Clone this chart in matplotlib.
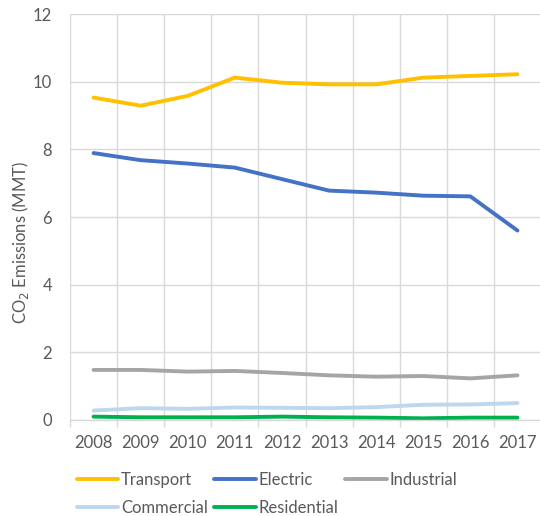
import numpy as np
import matplotlib.pyplot as plt

years = ["2008", "2009", "2010", "2011", "2012", "2013", "2014", "2015", "2016", "2017"]
transport = [9.53, 9.29, 9.58, 10.12, 9.97, 9.92, 9.92, 10.12, 10.17, 10.22]
electric = [7.89, 7.68, 7.58, 7.46, 7.12, 6.78, 6.72, 6.63, 6.61, 5.60]
industrial = [1.48, 1.48, 1.43, 1.45, 1.39, 1.32, 1.28, 1.30, 1.23, 1.32]
commercial = [0.28, 0.35, 0.33, 0.37, 0.36, 0.35, 0.38, 0.45, 0.46, 0.50]
residential = [0.10, 0.08, 0.08, 0.08, 0.10, 0.08, 0.07, 0.05, 0.07, 0.07]

plt.rcParams['font.family'] = ['Lato', 'DejaVu Sans']
grey_txt = "#595959"

fig = plt.figure(figsize=(5.4, 5.16), dpi=100)
ax = fig.add_axes([70/540, 1 - 420/516, 471/540, 406/516])

x = np.arange(len(years))
lines = {}
lines["Transport"], = ax.plot(x, transport, color="#FFC000", lw=2.8, solid_capstyle="round")
lines["Electric"], = ax.plot(x, electric, color="#4472C4", lw=2.8, solid_capstyle="round")
lines["Industrial"], = ax.plot(x, industrial, color="#A5A5A5", lw=2.8, solid_capstyle="round")
lines["Commercial"], = ax.plot(x, commercial, color="#BDD7EE", lw=2.8, solid_capstyle="round")
lines["Residential"], = ax.plot(x, residential, color="#00B050", lw=2.8, solid_capstyle="round")

ax.set_xlim(-0.5, 9.5)
ax.set_ylim(0, 12)
ax.set_yticks(np.arange(0, 13, 2))
ax.set_xticks(x)
ax.set_xticklabels(years)
ax.set_xticks(np.arange(-0.5, 10, 1), minor=True)

ax.grid(axis="y", color="#D9D9D9", lw=1)
ax.grid(axis="x", which="minor", color="#D9D9D9", lw=1)
ax.set_axisbelow(True)

for s in ["top", "right", "left"]:
    ax.spines[s].set_visible(False)
ax.spines["bottom"].set_color("#D9D9D9")
ax.spines["bottom"].set_linewidth(1)

ax.tick_params(axis="x", which="major", length=0, pad=11, labelsize=12, labelcolor=grey_txt)
ax.tick_params(axis="x", which="minor", length=5, color="#D9D9D9", width=1)
ax.tick_params(axis="y", length=0, pad=13, labelsize=12, labelcolor=grey_txt)

fig.text(21/540, 1 - 242/516, "CO$_2$ Emissions (MMT)", rotation=90,
         ha="center", va="center", fontsize=12, color=grey_txt)

order = ["Transport", "Commercial", "Electric", "Residential", "Industrial"]
fig.legend([lines[k] for k in order], order, ncol=3, loc="upper left",
           bbox_to_anchor=(70/540, 1 - 465/516), frameon=False, fontsize=12,
           labelcolor=grey_txt, handlelength=2.5, handletextpad=0.15,
           columnspacing=0.4, labelspacing=0.72, borderaxespad=0)

fig.savefig("out.png", dpi=100)
